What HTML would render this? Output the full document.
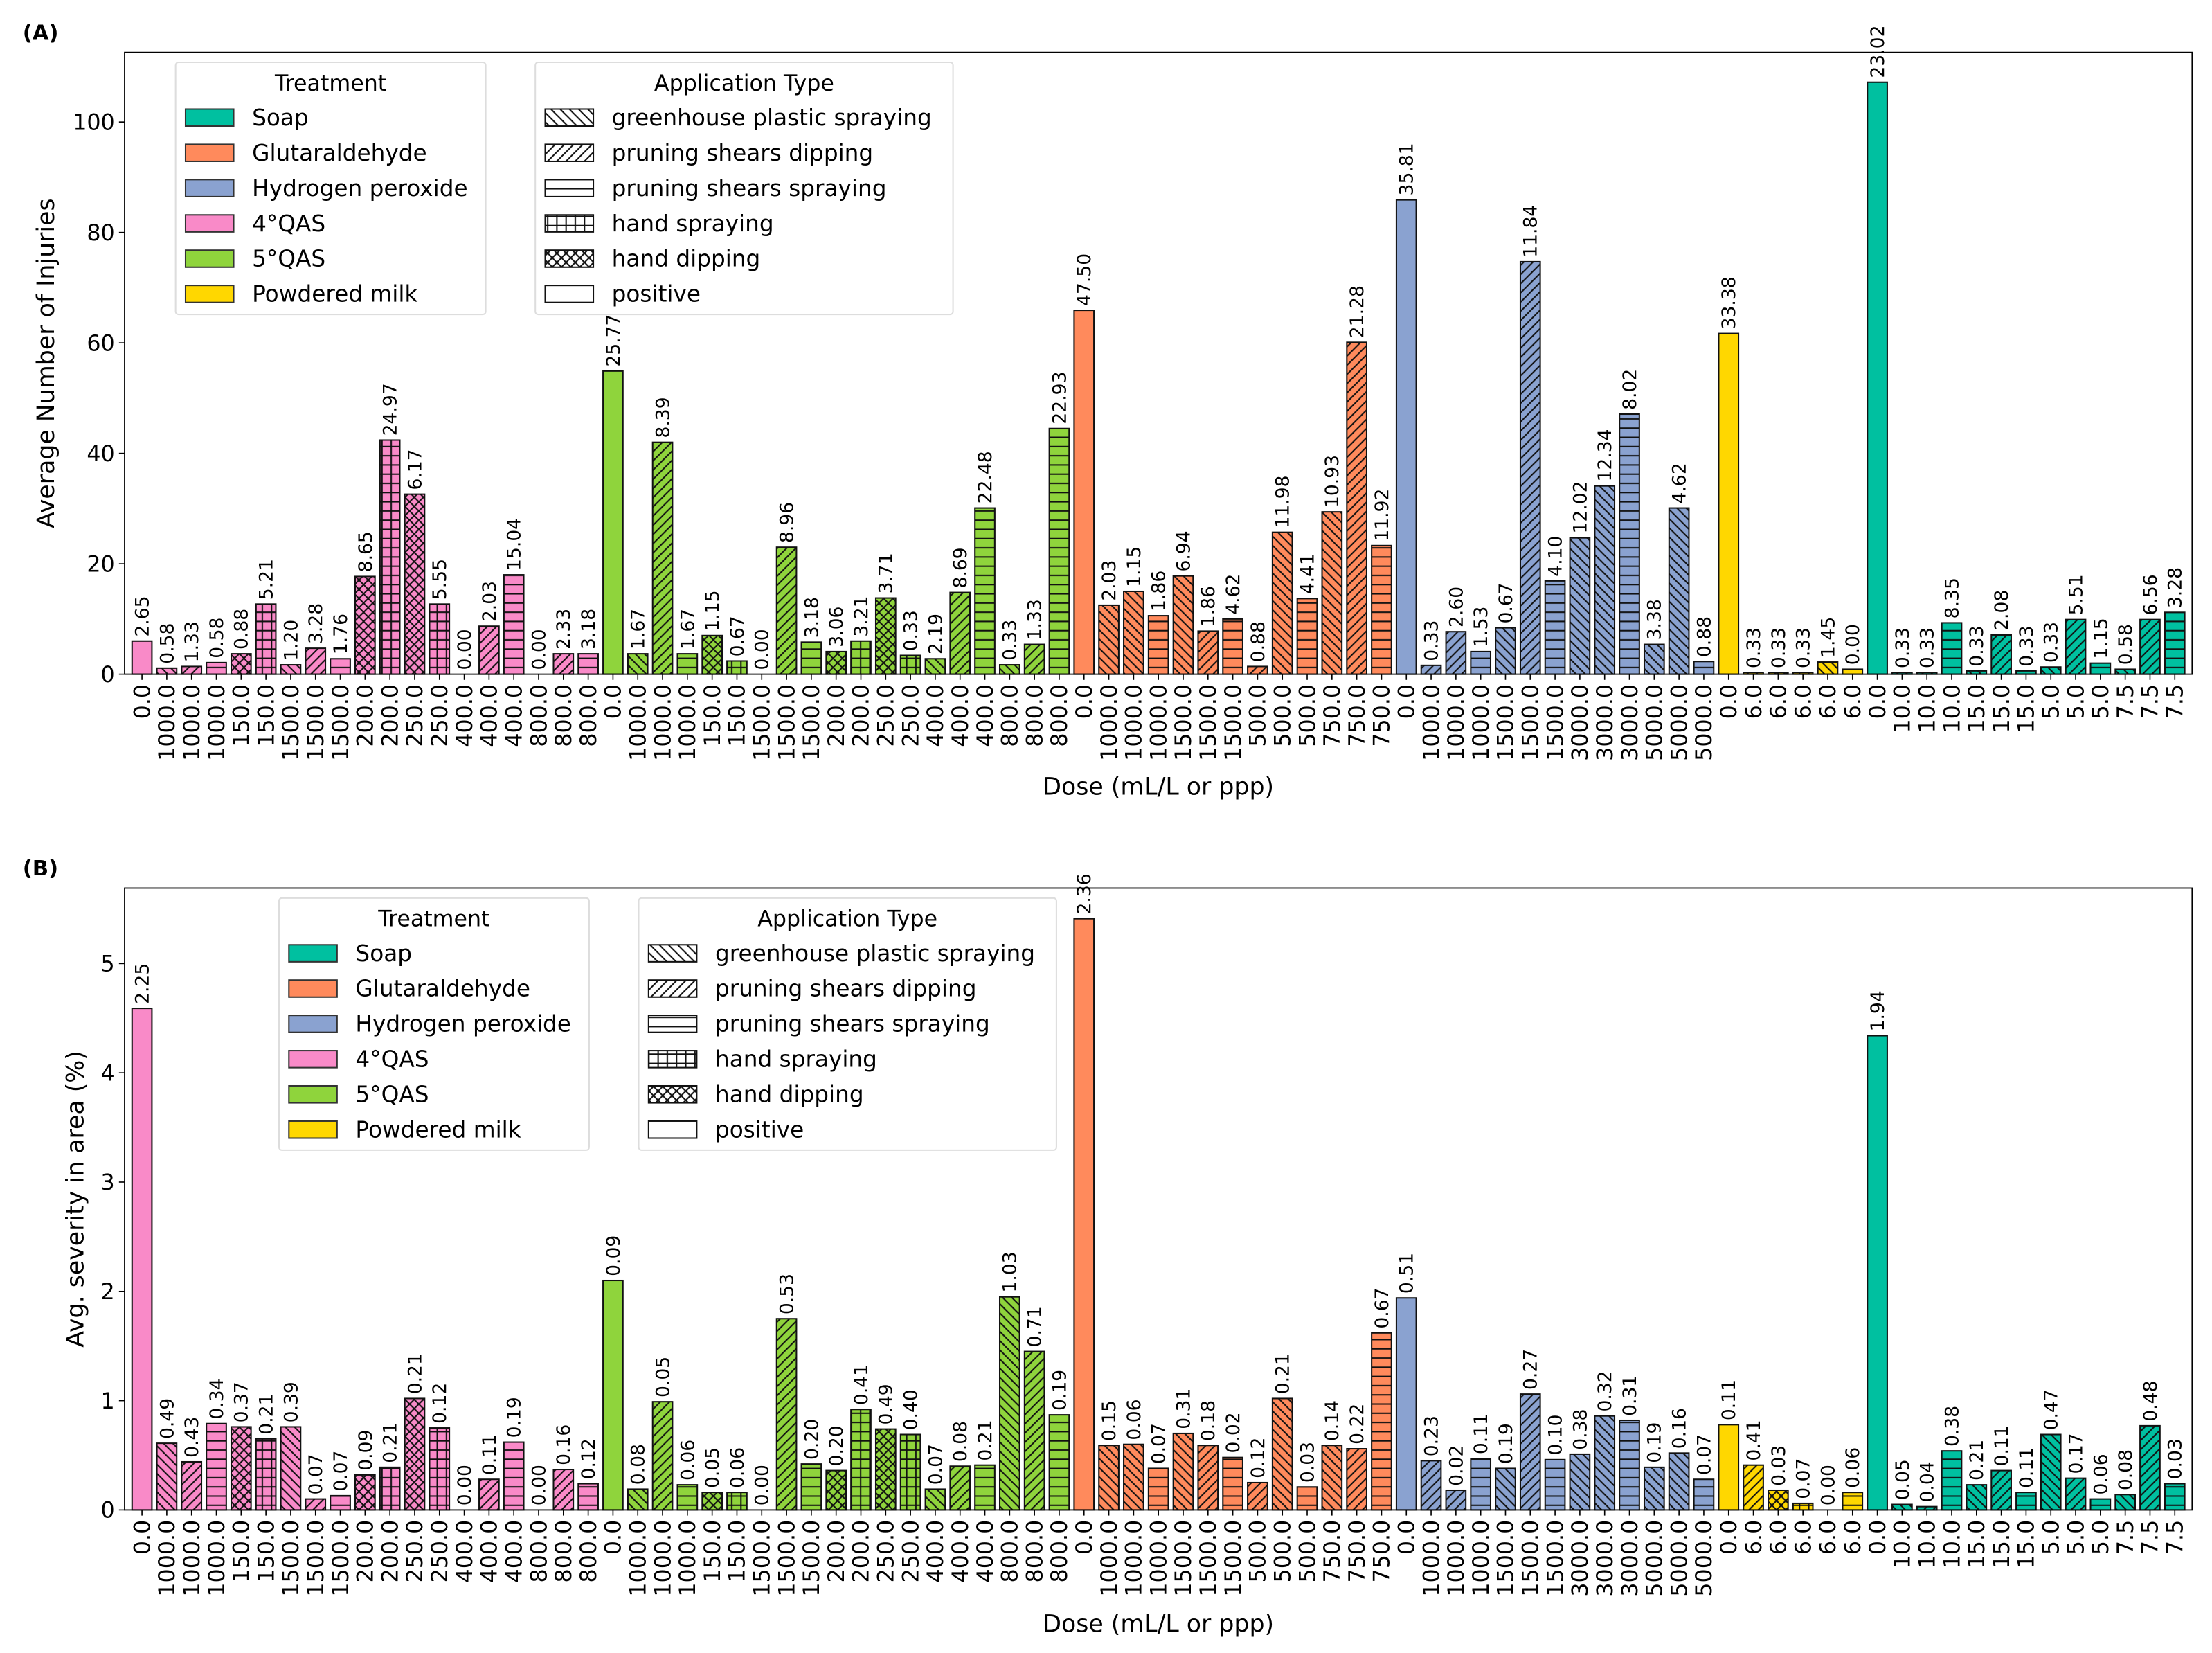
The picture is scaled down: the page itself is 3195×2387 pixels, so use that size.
<!DOCTYPE html>
<html><head><meta charset="utf-8"><title>Injuries and severity by dose</title>
<style>
html,body{margin:0;padding:0;background:#fff;}
svg{display:block;}
text{font-family:"DejaVu Sans","Liberation Sans",sans-serif;fill:#000;}
</style></head>
<body>
<svg id="chart" width="3195" height="2387" viewBox="0 0 1562 1167" xmlns="http://www.w3.org/2000/svg">
<defs id="defs"></defs>
<g id="root"></g>
</svg>
<script>
const doses = ["0.0","1000.0","1000.0","1000.0","150.0","150.0","1500.0","1500.0","1500.0","200.0","200.0","250.0","250.0","400.0","400.0","400.0","800.0","800.0","800.0",
"0.0","1000.0","1000.0","1000.0","150.0","150.0","1500.0","1500.0","1500.0","200.0","200.0","250.0","250.0","400.0","400.0","400.0","800.0","800.0","800.0",
"0.0","1000.0","1000.0","1000.0","1500.0","1500.0","1500.0","500.0","500.0","500.0","750.0","750.0","750.0",
"0.0","1000.0","1000.0","1000.0","1500.0","1500.0","1500.0","3000.0","3000.0","3000.0","5000.0","5000.0","5000.0",
"0.0","6.0","6.0","6.0","6.0","6.0",
"0.0","10.0","10.0","10.0","15.0","15.0","15.0","5.0","5.0","5.0","7.5","7.5","7.5"];
const treatments = [].concat(Array(19).fill("4QAS"),Array(19).fill("5QAS"),Array(13).fill("Glut"),Array(13).fill("H2O2"),Array(6).fill("Milk"),Array(13).fill("Soap"));
const hatches = ["","\\","/","-","x","+","\\","/","-","x","+","x","+","\\","/","-","\\","/","-",
"","\\","/","-","x","+","\\","/","-","x","+","x","+","\\","/","-","\\","/","-",
"","\\","\\","-","\\","/","-","/","\\","-","\\","/","-",
"","/","/","-","\\","/","-","\\","\\","-","\\","\\","-",
"","/","x","+","\\","-",
"","\\","/","-","\\","/","-","\\","/","-","\\","/","-"];
const valuesA = [6,1.1,1.4,2.1,3.7,12.7,1.7,4.7,2.8,17.7,42.4,32.6,12.7,0,8.7,18,0,3.7,3.7,
54.9,3.7,42,3.7,7.0,2.4,0,23,5.8,4.1,6,13.8,3.4,2.8,14.8,30.1,1.7,5.4,44.5,
65.9,12.5,15,10.6,17.8,7.8,10,1.4,25.7,13.7,29.4,60.1,23.3,
85.9,1.6,7.7,4.1,8.4,74.7,16.9,24.7,34.1,47.1,5.4,30.1,2.3,
61.7,0.3,0.3,0.3,2.2,0.9,
107.2,0.3,0.3,9.3,0.6,7.1,0.6,1.3,9.9,2.0,0.9,9.9,11.2];
const labelsA = ["2.65","0.58","1.33","0.58","0.88","5.21","1.20","3.28","1.76","8.65","24.97","6.17","5.55","0.00","2.03","15.04","0.00","2.33","3.18",
"25.77","1.67","8.39","1.67","1.15","0.67","0.00","8.96","3.18","3.06","3.21","3.71","0.33","2.19","8.69","22.48","0.33","1.33","22.93",
"47.50","2.03","1.15","1.86","6.94","1.86","4.62","0.88","11.98","4.41","10.93","21.28","11.92",
"35.81","0.33","2.60","1.53","0.67","11.84","4.10","12.02","12.34","8.02","3.38","4.62","0.88",
"33.38","0.33","0.33","0.33","1.45","0.00",
"23.02","0.33","0.33","8.35","0.33","2.08","0.33","0.33","5.51","1.15","0.58","6.56","3.28"];
const valuesB = [4.59,0.61,0.44,0.79,0.76,0.65,0.76,0.10,0.13,0.32,0.39,1.02,0.75,0,0.28,0.62,0,0.37,0.24,
2.10,0.19,0.99,0.23,0.16,0.16,0,1.75,0.42,0.36,0.92,0.74,0.69,0.19,0.40,0.41,1.95,1.45,0.87,
5.41,0.59,0.60,0.38,0.70,0.59,0.48,0.25,1.02,0.21,0.59,0.56,1.62,
1.94,0.45,0.18,0.47,0.38,1.06,0.46,0.51,0.86,0.82,0.39,0.52,0.28,
0.78,0.41,0.18,0.06,0,0.16,
4.34,0.05,0.03,0.54,0.23,0.36,0.16,0.69,0.29,0.10,0.14,0.77,0.24];
const labelsB = ["2.25","0.49","0.43","0.34","0.37","0.21","0.39","0.07","0.07","0.09","0.21","0.21","0.12","0.00","0.11","0.19","0.00","0.16","0.12",
"0.09","0.08","0.05","0.06","0.05","0.06","0.00","0.53","0.20","0.20","0.41","0.49","0.40","0.07","0.08","0.21","1.03","0.71","0.19",
"2.36","0.15","0.06","0.07","0.31","0.18","0.02","0.12","0.21","0.03","0.14","0.22","0.67",
"0.51","0.23","0.02","0.11","0.19","0.27","0.10","0.38","0.32","0.31","0.19","0.16","0.07",
"0.11","0.41","0.03","0.07","0.00","0.06",
"1.94","0.05","0.04","0.38","0.21","0.11","0.11","0.47","0.17","0.06","0.08","0.48","0.03"];
const ticksA = [0,20,40,60,80,100];
const ticksB = [0,1,2,3,4,5];
const treatmentNames = ["Soap","Glutaraldehyde","Hydrogen peroxide","4°QAS","5°QAS","Powdered milk"];
const treatmentKeys = ["Soap","Glut","H2O2","4QAS","5QAS","Milk"];
const appNames = ["greenhouse plastic spraying","pruning shears dipping","pruning shears spraying","hand spraying","hand dipping","positive"];
const appHatches = ["\\","/","-","+","x",""];

const colors = {Soap:"#00c0a0",Glut:"#ff8a5c",H2O2:"#8aa2d0","4QAS":"#f98ac8","5QAS":"#8fd43c",Milk:"#ffd700"};
const NS = "http://www.w3.org/2000/svg";
const defs = document.getElementById('defs');
const root = document.getElementById('root');
function mk(tag, attrs, parent){const e=document.createElementNS(NS,tag);for(const k in attrs)e.setAttribute(k,attrs[k]);(parent||root).appendChild(e);return e;}
const hatchKey = {"\\":"bs","/":"fs","-":"hz","+":"pl","x":"xx","":"no"};
const patCache = {};
function fillFor(color, h){
  if(!h) return color;
  const id = "p"+color.slice(1)+hatchKey[h];
  if(patCache[id]) return "url(#"+id+")";
  patCache[id]=1;
  const s=6.5;
  const p = mk('pattern',{id:id,patternUnits:"userSpaceOnUse",width:s,height:s},defs);
  mk('rect',{x:0,y:0,width:s,height:s,fill:color},p);
  const st={stroke:"#111","stroke-width":1};
  const L=(a,b,c,d)=>mk('line',Object.assign({x1:a,y1:b,x2:c,y2:d},st),p);
  if(h==="\\"){L(0,0,s,s);L(-s,0,s,2*s);L(0,-s,2*s,s);}
  if(h==="/"){L(0,s,s,0);L(-s,s,s,-s);L(0,2*s,2*s,0);}
  if(h==="-"){L(0,s/2,s,s/2);}
  if(h==="+"){L(0,s/2,s,s/2);L(s/2,0,s/2,s);}
  if(h==="x"){L(0,0,s,s);L(0,s,s,0);}
  return "url(#"+id+")";
}

function panel(cfg){
  const g = mk('g',{});
  
  
  const x0=88,x1=1548,yT=cfg.top,yB=cfg.bottom;
  const n=doses.length, step=(x1-x0)/(n+0.4), off=x0+step*0.7;
  const xs=i=>off+i*step;
  const ys=v=>yB-(v/cfg.ymax)*(yB-yT);
  const bw=step*0.8;
  const pl=mk('text',{x:16,y:yT-9,"font-size":15,"font-weight":"bold"},g); pl.textContent=cfg.letter;
  
  
  cfg.ticks.forEach(t=>{
    const y=ys(t);
    mk('line',{x1:x0-4,y1:y,x2:x0,y2:y,stroke:"#000","stroke-width":0.8},g);
    const tx=mk('text',{x:x0-7,y:y+5.5,"font-size":15.5,"text-anchor":"end"},g); tx.textContent=t;
    
    
  });
  const yl=mk('text',{x:0,y:0,"font-size":17,"text-anchor":"middle",transform:`translate(${cfg.ylx},${(yT+yB)/2}) rotate(-90)`},g); yl.textContent=cfg.ylabel;
  
  
  for(let i=0;i<n;i++){
    const v=cfg.values[i], c=colors[treatments[i]], x=xs(i);
    const y=ys(v);
    if(v>0){
      const r=mk('rect',{x:x-bw/2,y:y,width:bw,height:yB-y,fill:fillFor(c,hatches[i]),stroke:"#111","stroke-width":1},g);
      
      
    }
    const lb=mk('text',{x:0,y:0,"font-size":13,transform:`translate(${x+4.6},${y-3}) rotate(-90)`},g); lb.textContent=cfg.labels[i];
    
    
    mk('line',{x1:x,y1:yB,x2:x,y2:yB+4,stroke:"#000","stroke-width":0.8},g);
    const tl=mk('text',{x:0,y:0,"font-size":15.5,"text-anchor":"end",transform:`translate(${x+5.5},${yB+7}) rotate(-90)`},g); tl.textContent=doses[i];
    
    
  }
  mk('rect',{x:x0,y:yT,width:x1-x0,height:yB-yT,fill:"none",stroke:"#000","stroke-width":0.9},g);
  const xl=mk('text',{x:818,y:cfg.xly,"font-size":17,"text-anchor":"middle"},g); xl.textContent="Dose (mL/L or ppp)";
  
  
  function legend(lx,w,title,names,drawPatch,lname){
    const lg=mk('g',{},g);
    
    
    const ly=yT+7;
    mk('rect',{x:lx,y:ly,width:w,height:178,fill:"#fff","fill-opacity":0.85,stroke:"#ddd","stroke-width":1,rx:2},lg);
    const tt=mk('text',{x:lx+w/2,y:ly+20,"font-size":15.5,"text-anchor":"middle"},lg); tt.textContent=title;
    names.forEach((nm,k)=>{
      const cy=ly+39+k*24.9;
      drawPatch(lg,lx+7,cy-6,k);
      const et=mk('text',{x:lx+54,y:cy+5.5,"font-size":16},lg); et.textContent=nm;
      
      
    });
  }
  legend(cfg.l1,219,"Treatment",treatmentNames,(lg,px,py,k)=>{
    mk('rect',{x:px,y:py,width:34,height:12,fill:colors[treatmentKeys[k]],stroke:"#333","stroke-width":1},lg);
  },'treatment-legend');
  legend(cfg.l2,295,"Application Type",appNames,(lg,px,py,k)=>{
    mk('rect',{x:px,y:py,width:34,height:12,fill:fillFor("#ffffff",appHatches[k]),stroke:"#111","stroke-width":1},lg);
  },'application-type-legend');
}

panel({name:"panel-a-injuries",letter:"(A)",top:37,bottom:476,ymax:112.6,ticks:ticksA,values:valuesA,labels:labelsA,ylabel:"Average Number of Injuries",ylx:38,xly:561,l1:124,l2:378});
panel({name:"panel-b-severity",letter:"(B)",top:627,bottom:1066,ymax:5.69,ticks:ticksB,values:valuesB,labels:labelsB,ylabel:"Avg. severity in area (%)",ylx:59,xly:1152,l1:197,l2:451});
</script>
</body></html>
